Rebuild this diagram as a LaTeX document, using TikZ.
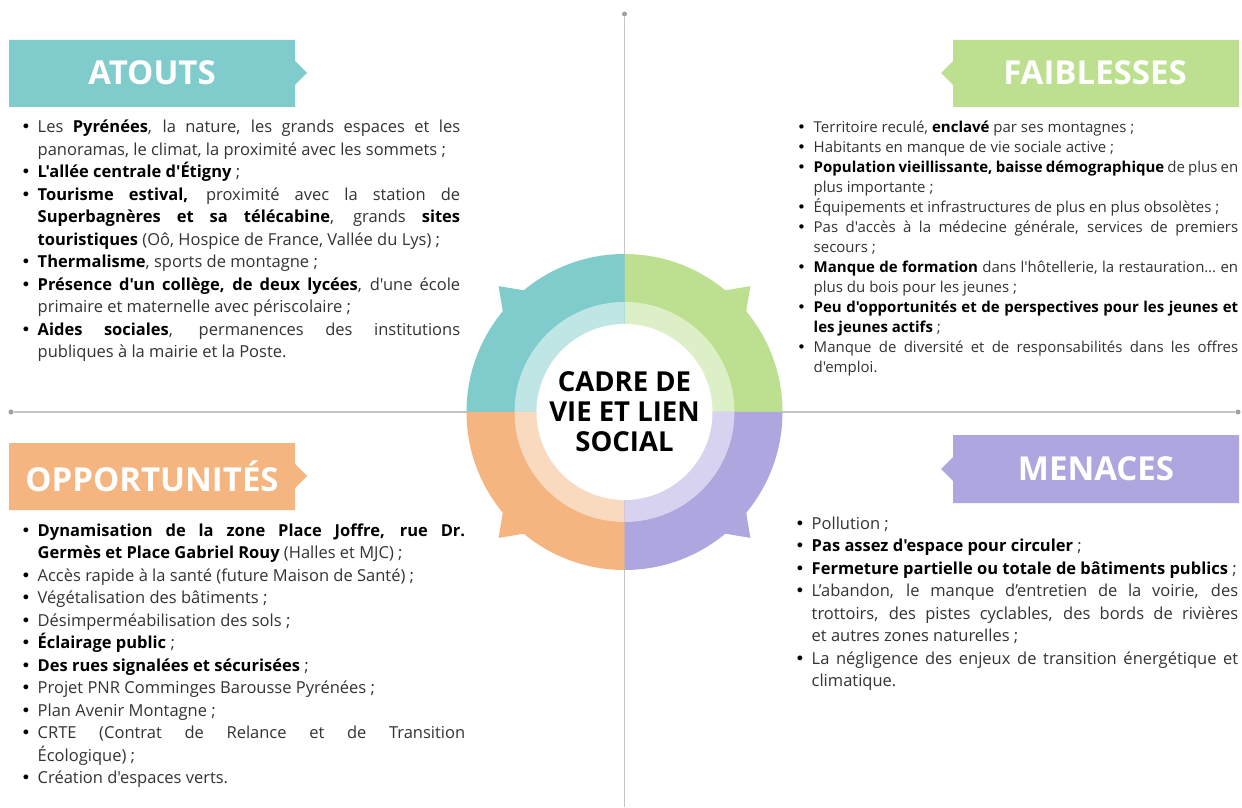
\documentclass[tikz,border=0pt]{standalone}
\usepackage{fontspec}
\setmainfont{Open Sans}[Ligatures=TeXOff]
\newfontfamily\dejavu{DejaVu Sans}
\usetikzlibrary{calc}
\definecolor{teal1}{HTML}{80CBCC}
\definecolor{teal2}{HTML}{C0E5E5}
\definecolor{green1}{HTML}{BCE08F}
\definecolor{green2}{HTML}{DDEFC7}
\definecolor{orange1}{HTML}{F4B580}
\definecolor{orange2}{HTML}{F9DABF}
\definecolor{purple1}{HTML}{AEA6DE}
\definecolor{purple2}{HTML}{D6D2EF}
\definecolor{bodytext}{HTML}{333333}
\definecolor{axis}{HTML}{C4C4C4}
\definecolor{axisdot}{HTML}{A0A0A0}
\newcommand{\itm}[1]{\noindent\hangindent=16.5pt\hangafter=1\makebox[16.5pt][l]{\color{black}\dejavu •}#1\par}
\newcommand{\lsetup}{\tolerance=10000\hyphenpenalty=10000\parindent=0pt\relax}
\begin{document}
\begin{tikzpicture}[x=1pt,y=1pt,
  headtext/.style={text=white,font=\fontsize{33}{36}\selectfont\bfseries,inner sep=0pt},
  listbox/.style={anchor=base west,inner sep=0pt,align=justify,text=bodytext,
     font=\fontsize{16.5}{22.5}\selectfont},
  smalllist/.style={listbox,font=\fontsize{15}{20}\selectfont},
  axisline/.style={draw=axis,line width=1.5pt},
  axisend/.style={fill=axisdot,circle,inner sep=0pt,minimum size=5pt}]
\useasboundingbox (0,0) rectangle (1242,807);
\fill[white] (0,0) rectangle (1242,807);
% axes
\node[axisend] (vtop) at (624.5,793) {};
\coordinate (vbot) at (624.5,0);
\node[axisend] (hleft) at (11,395) {};
\node[axisend] (hright) at (1238,395) {};
\draw[axisline] (vtop) -- (vbot);
\draw[axisline] (hleft) -- (hright);
% central ring
\coordinate (C) at (624.5,395);
\def\ringquad#1#2#3{%
  \fill[#2] (C) -- ++(#1:158) arc[start angle=#1,end angle=#1+90,radius=158] -- cycle;
  \fill[#2] ($(C)+(#1+45+5.7:157)$) -- ($(C)+(#1+45:178)$) -- ($(C)+(#1+45-5.7:157)$) -- (C) -- cycle;
  \fill[#3] (C) -- ++(#1:110) arc[start angle=#1,end angle=#1+90,radius=110] -- cycle;}
\ringquad{0}{green1}{green2}
\ringquad{90}{teal1}{teal2}
\ringquad{180}{orange1}{orange2}
\ringquad{270}{purple1}{purple2}
\fill[white] (C) circle[radius=88];
\node[align=center,font=\fontsize{27.5}{30}\selectfont\bfseries,text=black,inner sep=0pt] (centre) at (624.5,395) {CADRE DE\\VIE ET LIEN\\SOCIAL};
% banners
\fill[teal1] (9,700) -- (9,767) -- (295,767) -- (295,746) -- (307,734) -- (295,722) -- (295,700) -- cycle;
\node[headtext] (atouts) at (152,734) {ATOUTS};
\fill[green1] (1239,700) -- (1239,767) -- (953,767) -- (953,746) -- (941,734) -- (953,722) -- (953,700) -- cycle;
\node[headtext] (faiblesses) at (1095,734) {FAIBLESSES};
\fill[orange1] (9,297) -- (9,364) -- (295,364) -- (295,343) -- (307,331) -- (295,319) -- (295,297) -- cycle;
\node[headtext] (opport) at (152,331) {OPPORTUNITÉS};
\fill[purple1] (1239,304) -- (1239,372) -- (953,372) -- (953,350) -- (941,338) -- (953,326) -- (953,304) -- cycle;
\node[headtext] (menaces) at (1096,338) {MENACES};
% lists
\node[listbox,text width=439pt] (latouts) at (21,674) {\lsetup
\itm{Les \textbf{\color{black}Pyrénées}, la nature, les grands espaces et les\linebreak panoramas, le climat, la proximité avec les sommets ;}
\itm{\textbf{\color{black}L'allée centrale d'Étigny} ;}
\itm{\textbf{\color{black}Tourisme estival,} proximité avec la station de\linebreak \textbf{\color{black}Superbagnères et sa télécabine}, grands \textbf{\color{black}sites\linebreak touristiques} (Oô, Hospice de France, Vallée du Lys) ;}
\itm{\textbf{\color{black}Thermalisme}, sports de montagne ;}
\itm{\textbf{\color{black}Présence d'un collège, de deux lycées}, d'une école\linebreak primaire et maternelle avec périscolaire ;}
\itm{\textbf{\color{black}Aides sociales}, permanences des institutions\linebreak publiques à la mairie et la Poste.}};
\node[smalllist,text width=441pt] (lfaibl) at (797,674) {\lsetup
\itm{Territoire reculé, \textbf{\color{black}enclavé} par ses montagnes ;}
\itm{Habitants en manque de vie sociale active ;}
\itm{\textbf{\color{black}Population vieillissante, baisse démographique} de plus en\linebreak plus importante ;}
\itm{Équipements et infrastructures de plus en plus obsolètes ;}
\itm{Pas d'accès à la médecine générale, services de premiers\linebreak secours ;}
\itm{\textbf{\color{black}Manque de formation} dans l'hôtellerie, la restauration… en\linebreak plus du bois pour les jeunes ;}
\itm{\textbf{\color{black}Peu d'opportunités et de perspectives pour les jeunes et\linebreak les jeunes actifs} ;}
\itm{Manque de diversité et de responsabilités dans les offres\linebreak d'emploi.}};
\node[listbox,text width=444pt] (lopport) at (21,271) {\lsetup
\itm{\textbf{\color{black}Dynamisation de la zone Place Joffre, rue Dr.\linebreak Germès et Place Gabriel Rouy} (Halles et MJC) ;}
\itm{Accès rapide à la santé (future Maison de Santé) ;}
\itm{Végétalisation des bâtiments ;}
\itm{Désimperméabilisation des sols ;}
\itm{\textbf{\color{black}Éclairage public} ;}
\itm{\textbf{\color{black}Des rues signalées et sécurisées} ;}
\itm{Projet PNR Comminges Barousse Pyrénées ;}
\itm{Plan Avenir Montagne ;}
\itm{CRTE (Contrat de Relance et de Transition\linebreak Écologique) ;}
\itm{Création d'espaces verts.}};
\node[listbox,text width=443pt] (lmenaces) at (795,278) {\lsetup
\itm{Pollution ;}
\itm{\textbf{\color{black}Pas assez d'espace pour circuler} ;}
\itm{\textbf{\color{black}Fermeture partielle ou totale de bâtiments publics} ;}
\itm{L’abandon, le manque d’entretien de la voirie, des\linebreak trottoirs, des pistes cyclables, des bords de rivières\linebreak et autres zones naturelles ;}
\itm{La négligence des enjeux de transition énergétique et\linebreak climatique.}};
\end{tikzpicture}
\end{document}
